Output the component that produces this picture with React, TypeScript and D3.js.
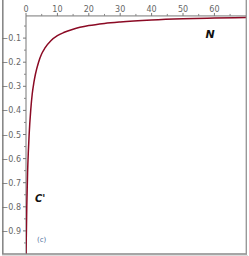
import React from 'react';
import * as d3 from 'd3';

// readings: N vs C'
const nValues = [0, 0.25, 0.5, 0.75, 1, 1.5, 2, 2.5, 3, 4, 5, 6, 8, 10, 12, 15, 20, 25, 30, 40, 50, 60, 70];
const cValues = [-1.0, -0.8, -0.66, -0.57, -0.5, -0.4, -0.33, -0.285, -0.25, -0.2, -0.165, -0.142, -0.11, -0.09, -0.077, -0.063, -0.048, -0.039, -0.033, -0.025, -0.02, -0.017, -0.015];
const xTicks = [0, 10, 20, 30, 40, 50, 60];
const yTicks = [-0.1, -0.2, -0.3, -0.4, -0.5, -0.6, -0.7, -0.8, -0.9];

const W = 249;
const H = 256;

export default function App(): JSX.Element {
  const x = d3.scaleLinear().domain([0, 70]).range([26, 245.8]);
  const y = d3.scaleLinear().domain([0, -1]).range([14, 255]);
  const axisY = y(-0.008);
  const bottom = 253.5;

  const pts = nValues.map((n, i) => [n, cValues[i]] as [number, number]);
  const line = d3
    .line<[number, number]>()
    .x(d => x(d[0]))
    .y(d => y(d[1]))
    .curve(d3.curveMonotoneX);

  const minorX = d3.range(5, 70, 10);
  const minorY = d3.range(-0.05, -0.99, -0.1);
  const fmt = (v: number) => '\u2212' + Math.abs(v).toFixed(1);

  return (
    <svg
      width={W}
      height={H}
      style={{ position: 'fixed', left: 0, top: 0, background: '#fff' }}
      fontFamily="'DejaVu Sans', sans-serif"
    >
      <defs>
        <clipPath id="plot">
          <rect x={26} y={axisY} width={220} height={bottom - axisY} />
        </clipPath>
      </defs>
      {/* frame */}
      <line x1={2.8} y1={0} x2={2.8} y2={254} stroke="#888" strokeWidth={1.6} />
      <line x1={2} y1={254} x2={247} y2={254} stroke="#888" strokeWidth={1.6} />
      <line x1={246.3} y1={0} x2={246.3} y2={254} stroke="#999" strokeWidth={1.4} />
      <line x1={2} y1={255.5} x2={248} y2={255.5} stroke="#ddd" strokeWidth={1} />

      {/* axes */}
      <line x1={x(0)} y1={axisY} x2={246} y2={axisY} stroke="#777" strokeWidth={1} />
      <line x1={x(0)} y1={axisY} x2={x(0)} y2={bottom} stroke="#777" strokeWidth={1} />
      {xTicks.map(t => (
        <g key={'x' + t}>
          <line x1={x(t)} x2={x(t)} y1={axisY} y2={axisY - 3} stroke="#777" />
          <text x={x(t)} y={12} fontSize={8} fill="#666" textAnchor="middle">
            {t}
          </text>
        </g>
      ))}
      {minorX.map(t => (
        <line key={'mx' + t} x1={x(t)} x2={x(t)} y1={axisY} y2={axisY - 2} stroke="#888" />
      ))}
      {yTicks.map(t => (
        <g key={'y' + t}>
          <line x1={x(0) - 3} x2={x(0)} y1={y(t)} y2={y(t)} stroke="#777" />
          <text x={21} y={y(t) + 3} fontSize={8} fill="#666" textAnchor="end">
            {fmt(t)}
          </text>
        </g>
      ))}
      {minorY.map(t => (
        <line key={'my' + t} x1={x(0) - 2} x2={x(0)} y1={y(t)} y2={y(t)} stroke="#888" />
      ))}

      {/* curve */}
      <path d={line(pts) || ''} fill="none" stroke="#8b0a24" strokeWidth={1.5} clipPath="url(#plot)" />

      {/* labels */}
      <text x={210} y={38} fontSize={11} fontWeight="bold" fontStyle="italic" fill="#111" textAnchor="middle">
        N
      </text>
      <text x={35} y={202} fontSize={10} fontWeight="bold" fontStyle="italic" fill="#111">
        C'
      </text>
      <text x={37} y={242} fontSize={7} fill="#4a6a9a">
        (c)
      </text>
    </svg>
  );
}
